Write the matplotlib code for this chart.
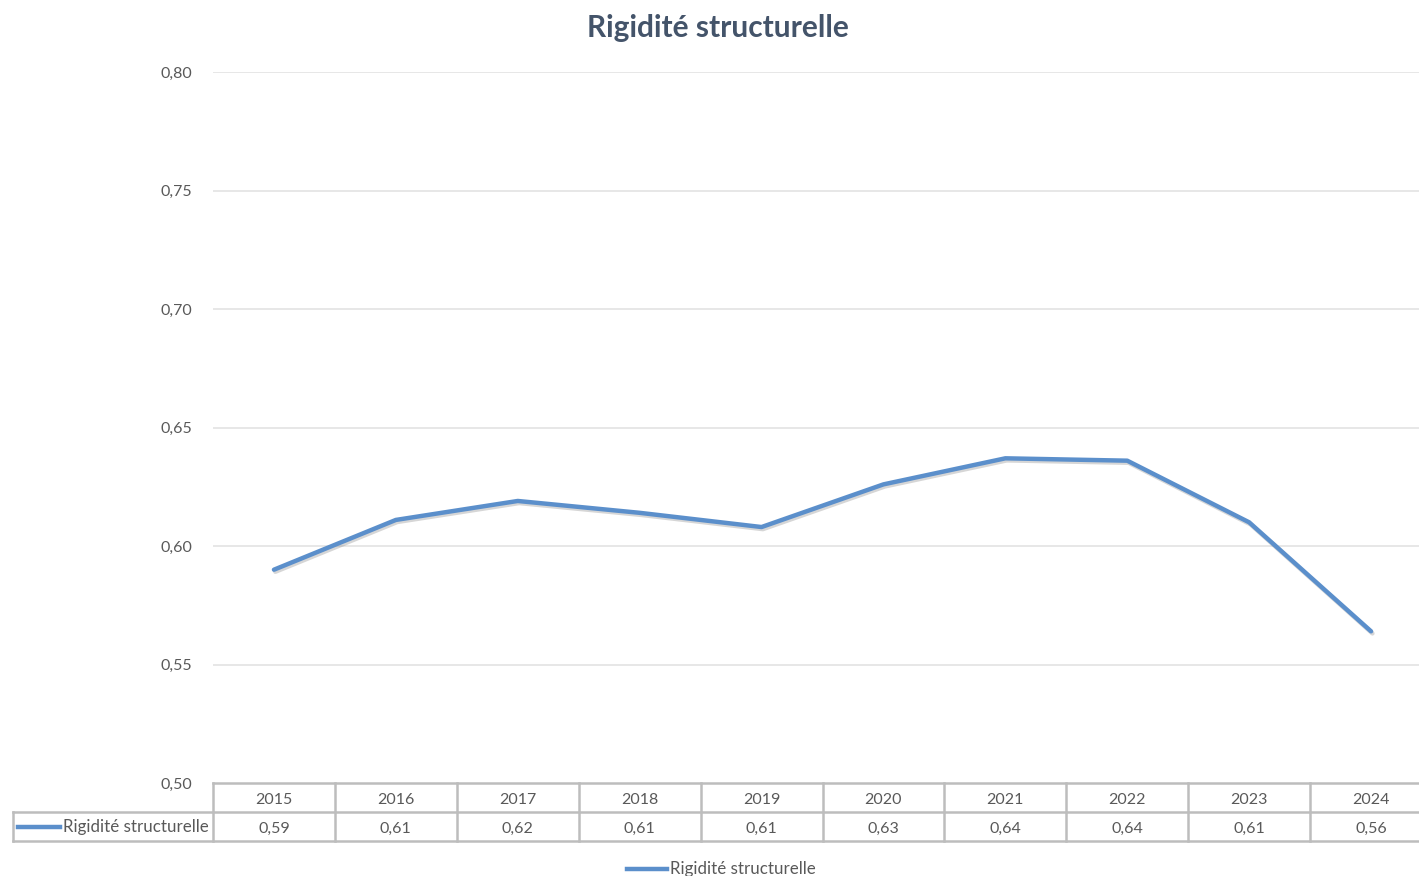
import matplotlib.pyplot as plt
import matplotlib.patheffects as pe
from matplotlib.lines import Line2D
from matplotlib.transforms import blended_transform_factory
import numpy as np

years = ["2015", "2016", "2017", "2018", "2019", "2020", "2021", "2022", "2023", "2024"]
rigidite = [0.590, 0.611, 0.619, 0.614, 0.608, 0.626, 0.637, 0.636, 0.610, 0.564]
y_ticks = [0.50, 0.55, 0.60, 0.65, 0.70, 0.75, 0.80]
series_name = "Rigidité structurelle"

LINE_COLOR = "#5B8FCB"
GRID_COLOR = "#E3E3E3"
TABLE_COLOR = "#BDBDBD"
TEXT_COLOR = "#595959"

plt.rcParams["font.family"] = ["Lato", "DejaVu Sans"]


def fr(v):
    return f"{v:.2f}".replace(".", ",")


def main():
    fig = plt.figure(figsize=(14.19, 8.76), dpi=100)
    W, H = 1419, 876
    # plot area in pixels: x 213..1432 (runs off the right edge), y 72..783
    ax = fig.add_axes([213 / W, (H - 783) / H, 1219 / W, 711 / H])

    x = np.arange(len(years))
    ax.plot(x, rigidite, color=LINE_COLOR, lw=3.2, solid_capstyle="round",
            solid_joinstyle="round",
            path_effects=[pe.SimpleLineShadow(offset=(1, -1.5), shadow_color="#8a8a8a", alpha=0.35),
                          pe.Normal()], zorder=3)

    ax.set_xlim(-0.5, len(years) - 0.5)
    ax.set_ylim(0.50, 0.80)
    ax.set_yticks(y_ticks)
    ax.set_yticklabels([fr(t) for t in y_ticks], color=TEXT_COLOR, fontsize=11.5)
    ax.tick_params(axis="y", length=0, pad=15)
    ax.set_xticks([])
    for t in y_ticks[1:]:
        ax.axhline(t, color=GRID_COLOR, lw=1.2, zorder=1)
    for s in ax.spines.values():
        s.set_visible(False)

    # data table under the axis
    tr = blended_transform_factory(ax.transData, ax.transAxes)
    px = 1 / 711
    y_top = 0.0
    y_mid = -29 * px
    y_bot = -58 * px
    x_left = -0.5
    x_right = len(years) - 0.5
    x_label = -0.5 - 200 / 121.9

    line_kw = dict(color=TABLE_COLOR, lw=1.8, transform=tr, clip_on=False, zorder=2)
    ax.add_line(Line2D([x_left, x_right], [y_top, y_top], **line_kw))
    ax.add_line(Line2D([x_label, x_right], [y_mid, y_mid], **line_kw))
    ax.add_line(Line2D([x_label, x_right], [y_bot, y_bot], **line_kw))
    for b in np.arange(len(years) + 1) - 0.5:
        ax.add_line(Line2D([b, b], [y_top, y_bot], **line_kw))
    ax.add_line(Line2D([x_label, x_label], [y_mid, y_bot], **line_kw))

    for i, (yr, v) in enumerate(zip(years, rigidite)):
        ax.text(i, (y_top + y_mid) / 2 - 2 * px, yr, ha="center", va="center",
                fontsize=11.5, color=TEXT_COLOR, transform=tr)
        ax.text(i, (y_mid + y_bot) / 2 - 2 * px, fr(v), ha="center", va="center",
                fontsize=11.5, color=TEXT_COLOR, transform=tr)

    # legend key inside the row label cell
    fy = (H - 827) / H
    fig.add_artist(Line2D([18 / W, 60 / W], [fy, fy], color=LINE_COLOR, lw=3.2))
    fig.text(63 / W, fy, series_name, ha="left", va="center", fontsize=12.2, color=TEXT_COLOR)

    # legend at the bottom
    ly = (H - 869) / H
    fig.add_artist(Line2D([627 / W, 667 / W], [ly, ly], color=LINE_COLOR, lw=3.2))
    fig.text(670 / W, ly, series_name, ha="left", va="center", fontsize=12.2, color=TEXT_COLOR)

    fig.text(718 / W, (H - 28) / H, series_name, ha="center", va="center",
             fontsize=21.5, fontweight="bold", color="#44546A")

    fig.savefig("out.png", dpi=100, facecolor="white")
    plt.close(fig)


if __name__ == "__main__":
    main()
